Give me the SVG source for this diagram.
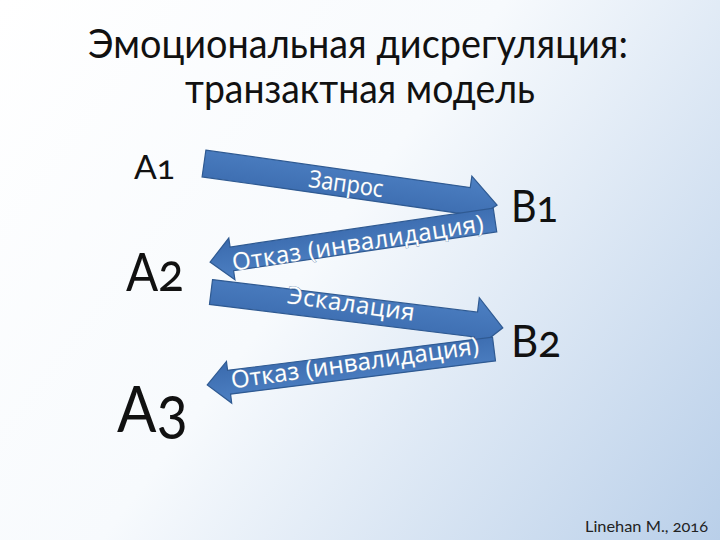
<svg xmlns="http://www.w3.org/2000/svg" width="720" height="540" viewBox="0 0 720 540">
  <defs>
    <linearGradient id="bg" x1="0" y1="0" x2="720" y2="540" gradientUnits="userSpaceOnUse">
      <stop offset="0" stop-color="#ffffff"/>
      <stop offset="0.45" stop-color="#f7fafd"/>
      <stop offset="1" stop-color="#b9cfe9"/>
    </linearGradient>
    <linearGradient id="arrowFill" x1="0" y1="0" x2="0" y2="1">
      <stop offset="0" stop-color="#4d80c3"/>
      <stop offset="1" stop-color="#3a6aad"/>
    </linearGradient>
  </defs>
  <style>
    .title { font-family: Lato, "Open Sans", "Liberation Sans", sans-serif; font-size: 40px; fill: #111; }
    .lbl { font-family: Lato, "Open Sans", "Liberation Sans", sans-serif; fill: #111; font-variant-numeric: oldstyle-nums; font-feature-settings: "onum" 1; }
    .arrow { fill: url(#arrowFill); stroke: #2f5a92; stroke-width: 1.2; stroke-linejoin: miter; }
    .atext { font-family: "Open Sans", "Liberation Sans", sans-serif; fill: #ffffff; stroke: #6f8fb5; stroke-width: 0.8; paint-order: stroke; text-anchor: middle; }
    .foot { font-family: Lato, "Open Sans", "Liberation Sans", sans-serif; font-size: 15px; fill: #222; font-variant-numeric: oldstyle-nums; font-feature-settings: "onum" 1; }
  </style>
  <rect width="720" height="540" fill="url(#bg)"/>

  <g id="title">
    <text class="title" x="88" y="58" textLength="540" lengthAdjust="spacingAndGlyphs">Эмоциональная дисрегуляция:</text>
    <text class="title" x="185" y="103" textLength="350" lengthAdjust="spacingAndGlyphs">транзактная модель</text>
  </g>

  <g id="A1"><text class="lbl" x="134" y="179" font-size="32" textLength="41" lengthAdjust="spacingAndGlyphs">A1</text></g>
  <g id="A2"><text class="lbl" x="126" y="291" font-size="52" textLength="58" lengthAdjust="spacingAndGlyphs">A2</text></g>
  <g id="A3"><text class="lbl" x="117" y="432" font-size="64" textLength="71" lengthAdjust="spacingAndGlyphs">A3</text></g>
  <g id="B1"><text class="lbl" x="511" y="222" font-size="44" textLength="47" lengthAdjust="spacingAndGlyphs">B1</text></g>
  <g id="B2"><text class="lbl" x="511" y="357" font-size="44" textLength="50" lengthAdjust="spacingAndGlyphs">B2</text></g>

  <g id="connectors">
    <g id="arrow-zapros">
      <polygon class="arrow" transform="translate(204,163.5) rotate(8.06)" points="0,-13.5 267,-13.5 267,-25 296,0 267,25 267,13.5 0,13.5"/>
      <text class="atext" font-size="24" transform="translate(345,192) rotate(8)" textLength="75" lengthAdjust="spacingAndGlyphs">Запрос</text>
    </g>
    <g id="arrow-otkaz1">
      <polygon class="arrow" transform="translate(495,220) rotate(171.6)" points="0,-12 266,-12 266,-21 288,0 266,21 266,12 0,12"/>
      <text class="atext" font-size="24" transform="translate(359,251) rotate(-9)" textLength="254" lengthAdjust="spacing">Отказ (инвалидация)</text>
    </g>
    <g id="arrow-eskalacia">
      <polygon class="arrow" transform="translate(211,292) rotate(7.0)" points="0,-12.5 267,-12.5 267,-27 294,0 267,27 267,12.5 0,12.5"/>
      <text class="atext" font-size="24" transform="translate(350,312) rotate(8)" textLength="128" lengthAdjust="spacing">Эскалация</text>
    </g>
    <g id="arrow-otkaz2">
      <polygon class="arrow" transform="translate(494,349) rotate(172.85)" points="0,-12 267,-12 267,-21 289,0 267,21 267,12 0,12"/>
      <text class="atext" font-size="24" transform="translate(356,371) rotate(-8)" textLength="250" lengthAdjust="spacing">Отказ (инвалидация)</text>
    </g>
  </g>

  <g id="footer"><text class="foot" x="585" y="532" textLength="123" lengthAdjust="spacingAndGlyphs">Linehan M., 2016</text></g>
</svg>
